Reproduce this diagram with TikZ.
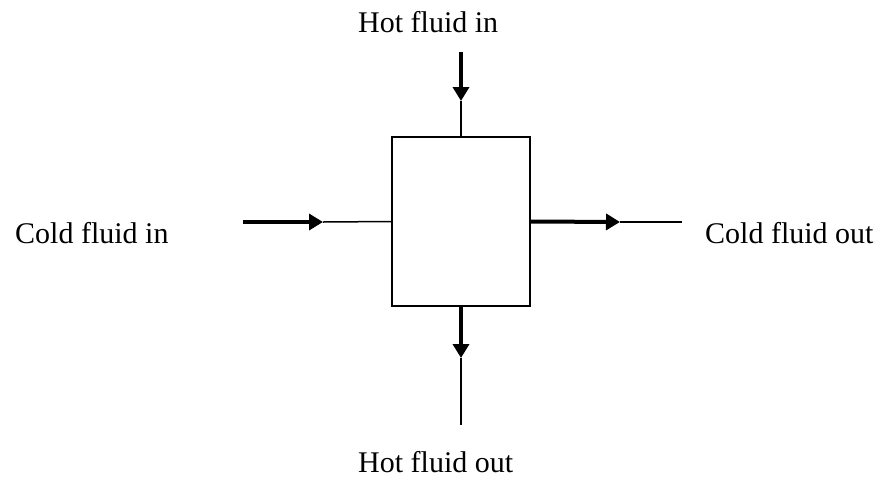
\documentclass[tikz,border=0pt]{standalone}
\usepackage{fontspec}
\setmainfont{Liberation Serif}
\usepackage{tikz}
\usetikzlibrary{arrows.meta}

\begin{document}
\begin{tikzpicture}[x=1pt, y=-1pt,
    flow/.style={line width=4pt, -{Triangle[length=14pt, width=16pt]}},
    pipe/.style={line width=1.5pt},
    lbl/.style={anchor=base west, inner sep=0pt, font=\fontsize{30}{36}\selectfont}]
    \useasboundingbox (0,0) rectangle (883,480);

    \node[draw, line width=1.5pt, minimum width=138pt, minimum height=169pt, inner sep=0pt] (hx) at (461,221.5) {};

    \coordinate (hotstart) at (461,52);
    \coordinate (hottip) at (461,101);
    \coordinate (coldstart) at (243,222);
    \coordinate (coldtip) at (323,222);
    \coordinate (coldtip2) at (620,222);
    \coordinate (coldend) at (682,222);
    \coordinate (hottip2) at (461,358);
    \coordinate (hotend) at (461,425);

    \draw[flow] (hotstart) -- (hottip);
    \draw[pipe] (hottip) -- (hx.north);
    \draw[flow] (coldstart) -- (coldtip);
    \draw[pipe] (coldtip) -- (hx.west);
    \draw[flow] (hx.east) -- (coldtip2);
    \draw[pipe] (coldtip2) -- (coldend);
    \draw[flow] (hx.south) -- (hottip2);
    \draw[pipe] (hottip2) -- (hotend);

    \node[lbl] (hotin) at (358,32) {Hot fluid in};
    \node[lbl] (coldin) at (15,243) {Cold fluid in};
    \node[lbl] (coldout) at (705,243) {Cold fluid out};
    \node[lbl] (hotout) at (358,472) {Hot fluid out};
\end{tikzpicture}
\end{document}
